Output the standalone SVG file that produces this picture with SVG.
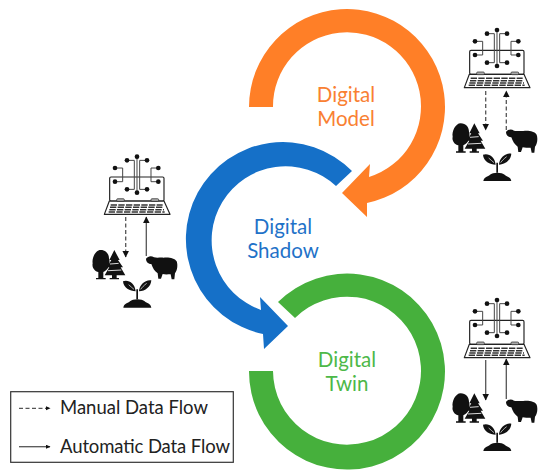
<svg xmlns="http://www.w3.org/2000/svg" width="550" height="476" viewBox="0 0 550 476">
<style>
.lb{font-family:Lato,"Open Sans",sans-serif;font-size:20.5px;text-anchor:middle}
.lg{font-family:Lato,"Open Sans",sans-serif;font-size:18.5px;fill:#222}
.ln{fill:none;stroke:#222;stroke-width:3.5}
.thin{fill:none;stroke:#444;stroke-width:3}
.fl{stroke:#555;stroke-width:1.3;fill:none}
.da{stroke-dasharray:4 2.5}
</style>
<defs>
<marker id="ah" markerUnits="userSpaceOnUse" markerWidth="7" markerHeight="7" refX="6" refY="3.25" orient="auto"><path d="M0,0L6.5,3.25L0,6.5Z" fill="#111"/></marker>
<marker id="as" markerUnits="userSpaceOnUse" markerWidth="5" markerHeight="5" refX="4" refY="2" orient="auto"><path d="M0,0L4.5,2L0,4Z" fill="#111"/></marker>
<g id="icon">
<rect class="ln" x="89" y="91" width="163" height="72" rx="4" fill="#fff"/>
<path class="ln" d="M88,163H252L270,203H73Z" stroke-linejoin="round"/>
<rect x="110" y="156" width="23" height="8" rx="3" fill="#aaa" stroke="#222" stroke-width="2"/>
<rect x="213" y="156" width="23" height="8" rx="3" fill="#aaa" stroke="#222" stroke-width="2"/>
<path d="M92,175H248M90,182H250M88,189H252M86,196H254" stroke="#333" stroke-width="4.5" stroke-dasharray="19 4"/>
<path class="thin" d="M171,30V138M141,41H163V128H141M201,41H179V128H201M105,64H128V105H105M235,64H213V105H235"/>
<g fill="#111">
<circle cx="171" cy="30" r="7"/><circle cx="141" cy="41" r="7"/><circle cx="201" cy="41" r="7"/>
<circle cx="171" cy="138" r="7"/><circle cx="141" cy="128" r="7"/><circle cx="201" cy="128" r="7"/>
<circle cx="105" cy="64" r="7"/><circle cx="105" cy="105" r="7"/><circle cx="235" cy="64" r="7"/><circle cx="235" cy="105" r="7"/>
<path d="M62,310C78,310 87,322 87,335C92,352 86,368 70,376V394H77V398H48V394H55V376C44,374 35,362 38,350C35,335 46,310 62,310Z"/>
<path d="M103,310L119,340H114L129,362H122L136,386H110V394H117V398H89V394H96V386H74L88,362H81L94,340H88Z"/>
<path d="M198,336C204,328 214,326 222,332C232,335 240,332 250,333C266,331 284,334 290,344C294,355 292,372 285,380L283,398H275L272,383C264,383 254,384 248,382L243,396H235L233,380C224,374 218,364 214,352C206,352 198,346 198,336Z"/>
<path d="M130,483C132,470 144,470 150,464C158,456 186,456 194,464C200,470 212,470 214,483Z"/>
<path d="M169,458V428H174V458Z"/>
<path d="M167,434C150,434 130,424 129,404C145,398 165,410 167,434ZM177,434C178,414 196,398 214,401C213,420 196,434 177,434Z"/>
</g>
<path d="M146,414C152,420 158,424 162,428M200,410C192,416 186,422 182,428" stroke="#fff" stroke-width="2" fill="none"/>
<path d="M90,352L116,350M84,372L124,370" stroke="#fff" stroke-width="2.5" fill="none"/>
</g>
</defs>
<rect width="550" height="476" fill="#fff"/>
<g id="digital-model">
<path fill="#FF7F27" d="M249,107A98,98 0 1 1 367,203L367,217L342,193L370,164L369,177A74,74 0 1 0 273,107Z"/>
<text class="lb" x="346" y="102" fill="#F98032">Digital</text>
<text class="lb" x="346" y="126" fill="#F98032">Model</text>
</g>
<g id="digital-shadow">
<path fill="#1570C8" d="M352,171A97,97 0 1 0 263,334L264,349L288,326L260,297L261,310A74,74 0 1 1 336,186Z"/>
<text class="lb" x="283" y="234" fill="#1F72C8">Digital</text>
<text class="lb" x="283" y="258" fill="#1F72C8">Shadow</text>
</g>
<g id="digital-twin">
<path fill="#46B03C" d="M278,302A98,98 0 1 1 249,371H273A74,74 0 1 0 295,318Z"/>
<text class="lb" x="347" y="367" fill="#4DB848">Digital</text>
<text class="lb" x="347" y="391" fill="#4DB848">Twin</text>
</g>
<g id="system-model"><use href="#icon" transform="translate(440,20) scale(.3333)"/></g>
<g id="system-shadow"><use href="#icon" transform="translate(80,146.7) scale(.3333)"/></g>
<g id="system-twin"><use href="#icon" transform="translate(440,290) scale(.3333)"/></g>
<g id="connectors">
<path class="fl da" d="M485.7,91V130" marker-end="url(#ah)"/>
<path class="fl da" d="M506.3,130V91" marker-end="url(#ah)"/>
<path class="fl da" d="M125.7,217V257" marker-end="url(#ah)"/>
<path class="fl" d="M146.3,256V217" marker-end="url(#ah)"/>
<path class="fl" d="M485.7,360V400" marker-end="url(#ah)"/>
<path class="fl" d="M506.3,399V359" marker-end="url(#ah)"/>
</g>
<g id="legend">
<rect x="10.7" y="391.7" width="222.6" height="70.6" fill="#fff" stroke="#333" stroke-width="1.2"/>
<path class="fl da" d="M19,408.3H50" marker-end="url(#as)"/>
<path class="fl" d="M19,446.7H50" marker-end="url(#as)"/>
<text class="lg" x="60" y="414" textLength="148">Manual Data Flow</text>
<text class="lg" x="60" y="452.7" textLength="170">Automatic Data Flow</text>
</g>
</svg>
